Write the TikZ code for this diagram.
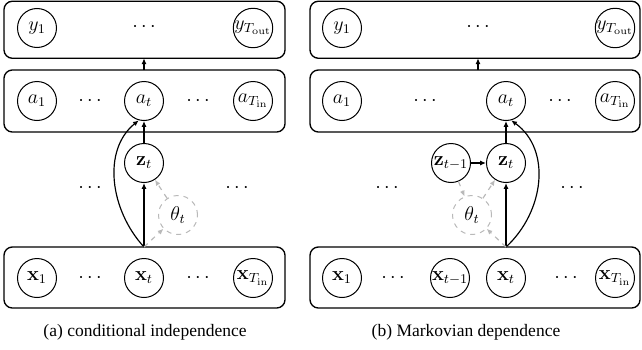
\documentclass[tikz,border=0pt]{standalone}
\usepackage[no-math]{fontspec}
\setmainfont{Liberation Serif}
\usetikzlibrary{arrows.meta}
\begin{document}
\begin{tikzpicture}[x=0.6pt,y=-0.6pt,
 var/.style={circle,draw,line width=0.6pt,minimum size=23.4pt,inner sep=0pt,font=\fontsize{12}{14}\selectfont},
 parnode/.style={var,draw=gray!55,dashed},
 dotsn/.style={inner sep=0pt,font=\fontsize{12}{14}\selectfont},
 box/.style={draw,rounded corners=5pt,line width=0.8pt,inner sep=0pt,outer sep=0pt},
 arr/.style={-{Latex[length=3.5pt,width=3pt]},line width=0.7pt},
 garr/.style={arr,draw=gray!55,dashed},
 captext/.style={font=\fontsize{10.5}{12}\selectfont}]
\useasboundingbox (0,0) rectangle (642,349);

% ---------- left panel ----------
\node[box,minimum width=168.6pt,minimum height=34.2pt] (topL) at (144.5,29.75) {};
\node[box,minimum width=168.6pt,minimum height=37.2pt] (midL) at (144.5,101) {};
\node[box,minimum width=168.6pt,minimum height=36.6pt] (botL) at (144.5,277.5) {};

\node[var] (y1L) at (37,28) {$y_1$};
\node[dotsn] (ydL) at (144,27) {$\cdots$};
\node[var] (yTL) at (253,28) {$y_{T_{\mathrm{out}}}$};

\node[var] (a1L) at (37,101) {$a_1$};
\node[dotsn] (ad1L) at (90,101) {$\cdots$};
\node[var] (atL) at (144,101) {$a_t$};
\node[dotsn] (ad2L) at (198,101) {$\cdots$};
\node[var] (aTL) at (253,101) {$a_{T_{\mathrm{in}}}$};

\node[var] (ztL) at (144,163) {$\mathbf{z}_t$};
\node[parnode] (thL) at (178,215) {$\theta_t$};
\node[dotsn] (md1L) at (90,188) {$\cdots$};
\node[dotsn] (md2L) at (237,188) {$\cdots$};

\node[var] (x1L) at (37,278) {$\mathbf{x}_1$};
\node[dotsn] (xd1L) at (90,278) {$\cdots$};
\node[var] (xtL) at (144,278) {$\mathbf{x}_t$};
\node[dotsn] (xd2L) at (198,278) {$\cdots$};
\node[var] (xTL) at (253,278) {$\mathbf{x}_{T_{\mathrm{in}}}$};

\node[captext] (capL) at (145,332) {(a) conditional independence};

\coordinate (jL) at (botL.north -| xtL);
\coordinate (bL1) at (midL.north -| ydL);
\coordinate (bL2) at (topL.south -| ydL);
\draw[arr] (bL1) -- (bL2);
\draw[arr] (jL) -- (ztL);
\draw[arr] (ztL) -- (atL);
\draw[arr] (jL) .. controls (110,210) and (102,150) .. (atL.-105);
\draw[garr] (jL) -- (thL);
\draw[garr] (thL) -- (ztL);

% ---------- right panel ----------
\node[box,minimum width=198pt,minimum height=34.2pt] (topR) at (475,29.75) {};
\node[box,minimum width=198pt,minimum height=37.2pt] (midR) at (475,101) {};
\node[box,minimum width=198pt,minimum height=36.6pt] (botR) at (475,277.5) {};

\node[var] (y1R) at (342,28) {$y_1$};
\node[dotsn] (ydR) at (478,27) {$\cdots$};
\node[var] (yTR) at (615,28) {$y_{T_{\mathrm{out}}}$};

\node[var] (a1R) at (342,101) {$a_1$};
\node[dotsn] (ad1R) at (425,101) {$\cdots$};
\node[var] (atR) at (506,101) {$a_t$};
\node[dotsn] (ad2R) at (560,101) {$\cdots$};
\node[var] (aTR) at (615,101) {$a_{T_{\mathrm{in}}}$};

\node[var] (zpR) at (451,163) {$\mathbf{z}_{t-1}$};
\node[var] (ztR) at (506,163) {$\mathbf{z}_t$};
\node[parnode] (thR) at (472,215) {$\theta_t$};
\node[dotsn] (md1R) at (387,188) {$\cdots$};
\node[dotsn] (md2R) at (572,188) {$\cdots$};

\node[var] (x1R) at (342,278) {$\mathbf{x}_1$};
\node[dotsn] (xd1R) at (393,278) {$\cdots$};
\node[var] (xpR) at (450,278) {$\mathbf{x}_{t-1}$};
\node[var] (xtR) at (506,278) {$\mathbf{x}_t$};
\node[dotsn] (xd2R) at (566,278) {$\cdots$};
\node[var] (xTR) at (615,278) {$\mathbf{x}_{T_{\mathrm{in}}}$};

\node[captext] (capR) at (466,332) {(b) Markovian dependence};

\coordinate (jR) at (botR.north -| xtR);
\coordinate (bR1) at (midR.north -| ydR);
\coordinate (bR2) at (topR.south -| ydR);
\draw[arr] (bR1) -- (bR2);
\draw[arr] (jR) -- (ztR);
\draw[arr] (ztR) -- (atR);
\draw[arr] (zpR) -- (ztR);
\draw[arr] (jR) .. controls (544,212) and (552,150) .. (atR.-75);
\draw[garr] (zpR) -- (thR);
\draw[garr] (jR) -- (thR);
\draw[garr] (thR) -- (ztR);
\end{tikzpicture}
\end{document}
